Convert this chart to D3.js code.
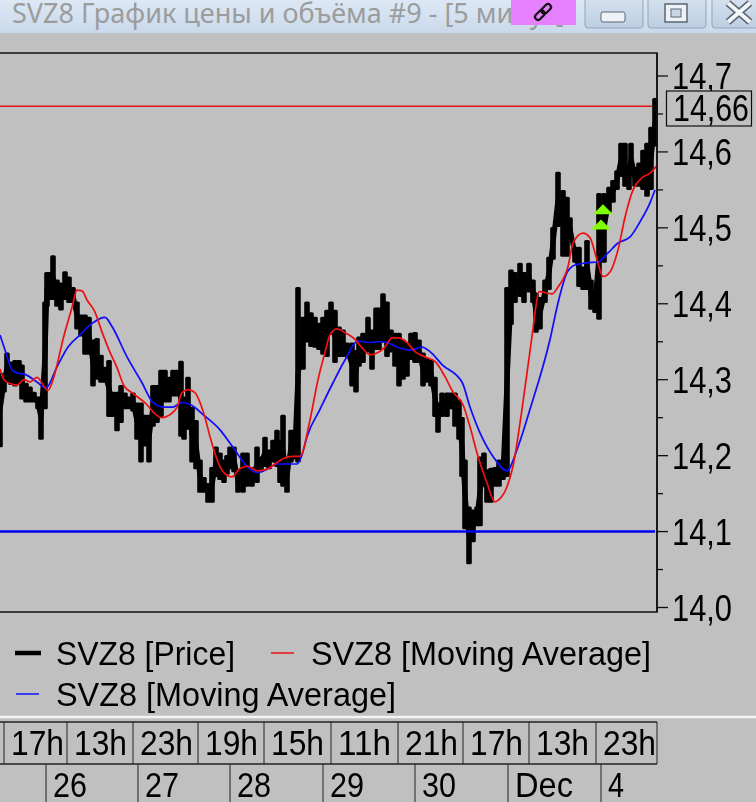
<!DOCTYPE html>
<html><head><meta charset="utf-8">
<script src="https://cdn.jsdelivr.net/npm/d3@7"></script>
<style>html,body{margin:0;padding:0;background:#c0c0c0;overflow:hidden}svg{display:block}</style>
</head><body><div id="c"></div>
<script>
const priceBars = `0 14.309 14.211;4 14.309 14.283;7 14.336 14.296;11 14.324 14.293;15 14.326 14.291;19 14.326 14.293;22 14.320 14.274;26 14.296 14.270;30 14.291 14.270;34 14.284 14.270;38 14.278 14.261;41 14.278 14.221;45 14.403 14.261;47 14.442 14.396;50 14.442 14.405;53 14.464 14.405;57 14.432 14.396;61 14.428 14.391;65 14.443 14.405;69 14.436 14.401;73 14.422 14.401;77 14.403 14.366;81 14.386 14.357;85 14.386 14.333;89 14.383 14.333;93 14.353 14.291;97 14.355 14.300;101 14.333 14.296;105 14.317 14.296;109 14.326 14.251;113 14.284 14.251;117 14.284 14.232;121 14.293 14.243;125 14.283 14.261;129 14.278 14.261;133 14.283 14.258;137 14.270 14.221;141 14.270 14.191;145 14.254 14.212;149 14.254 14.191;153 14.293 14.238;157 14.293 14.243;161 14.313 14.251;165 14.313 14.270;169 14.304 14.270;173 14.313 14.278;177 14.313 14.278;181 14.325 14.225;184 14.278 14.221;188 14.304 14.234;192 14.264 14.191;196 14.247 14.182;200 14.195 14.151;204 14.172 14.151;208 14.164 14.138;212 14.185 14.138;216 14.212 14.172;220 14.204 14.168;224 14.195 14.164;227 14.201 14.175;230 14.212 14.182;234 14.212 14.178;238 14.182 14.151;243 14.204 14.151;247 14.204 14.159;252 14.185 14.159;257 14.212 14.164;261 14.199 14.178;265 14.225 14.185;269 14.208 14.182;273 14.221 14.191;277 14.234 14.185;280 14.221 14.164;283 14.254 14.159;287 14.195 14.151;291 14.234 14.191;295 14.234 14.195;298 14.422 14.191;303 14.383 14.313;307 14.403 14.349;311 14.389 14.343;315 14.383 14.342;319 14.375 14.339;323 14.383 14.333;327 14.392 14.330;331 14.403 14.359;335 14.392 14.322;339 14.370 14.330;343 14.366 14.330;347 14.349 14.330;352 14.349 14.291;356 14.339 14.283;359 14.357 14.317;363 14.362 14.322;368 14.383 14.336;372 14.366 14.313;376 14.395 14.339;379 14.395 14.339;383 14.414 14.349;387 14.403 14.330;391 14.366 14.336;395 14.362 14.317;399 14.362 14.291;403 14.353 14.300;407 14.349 14.304;411 14.362 14.326;415 14.363 14.322;419 14.353 14.322;423 14.336 14.291;427 14.329 14.296;431 14.326 14.291;435 14.304 14.251;438 14.270 14.230;442 14.283 14.251;447 14.283 14.251;451 14.283 14.261;455 14.283 14.238;459 14.274 14.221;462 14.251 14.172;465 14.195 14.103;469 14.133 14.057;473 14.129 14.086;477 14.133 14.107;480 14.199 14.107;484 14.204 14.159;487 14.182 14.138;491 14.184 14.138;495 14.185 14.159;499 14.195 14.159;503 14.191 14.168;507 14.422 14.172;511 14.445 14.372;515 14.442 14.401;520 14.454 14.409;524 14.442 14.401;529 14.454 14.415;533 14.432 14.401;536 14.415 14.362;540 14.409 14.366;545 14.432 14.401;549 14.462 14.418;553 14.501 14.458;558 14.574 14.501;563 14.550 14.462;567 14.541 14.462;570 14.514 14.484;575 14.475 14.454;579 14.475 14.422;583 14.449 14.418;587 14.484 14.418;591 14.432 14.392;595 14.418 14.388;599 14.546 14.379;604 14.546 14.454;609 14.554 14.520;613 14.563 14.533;617 14.576 14.550;621 14.612 14.567;625 14.612 14.554;629 14.583 14.550;631 14.612 14.572;635 14.580 14.554;639 14.586 14.554;643 14.603 14.550;647 14.612 14.541;651 14.633 14.550;655 14.671 14.607`;
const priceTime = priceBars.split(";").map(r => +r.split(" ")[0]);
const priceHigh = priceBars.split(";").map(r => +r.split(" ")[1]);
const priceLow = priceBars.split(";").map(r => +r.split(" ")[2]);

const fastTime = [0,4,10,17,24,30,37,48,55,63,72,77,82,87,95,102,110,117,124,133,147,155,162,170,177,182,188,195,200,205,210,217,223,232,240,248,257,267,275,283,293,300,310,318,325,330,337,345,355,362,370,378,385,392,398,407,415,425,435,445,453,463,470,478,487,495,498,507,513,522,532,535,539,552,558,568,573,583,590,597,603,610,618,625,633,642,650,657];
const fastMA = [14.314,14.300,14.295,14.293,14.300,14.297,14.303,14.286,14.309,14.353,14.395,14.418,14.417,14.405,14.389,14.363,14.336,14.316,14.292,14.282,14.267,14.255,14.250,14.254,14.264,14.283,14.287,14.283,14.270,14.250,14.225,14.195,14.179,14.172,14.183,14.186,14.180,14.182,14.189,14.196,14.199,14.199,14.247,14.300,14.336,14.359,14.367,14.362,14.353,14.342,14.333,14.336,14.343,14.355,14.355,14.349,14.337,14.330,14.324,14.304,14.284,14.267,14.238,14.199,14.164,14.139,14.141,14.159,14.186,14.261,14.357,14.388,14.416,14.413,14.422,14.449,14.480,14.493,14.487,14.458,14.436,14.442,14.471,14.514,14.550,14.566,14.572,14.582];
const slowTime = [0,5,12,17,25,37,46,57,68,80,93,105,112,127,142,153,163,173,182,192,203,220,233,247,257,267,277,297,302,307,320,333,345,358,370,378,387,397,410,422,430,442,462,470,480,493,507,517,530,550,558,567,575,587,598,608,618,630,640,650,655];
const slowMA = [14.359,14.339,14.313,14.309,14.307,14.297,14.289,14.317,14.343,14.359,14.375,14.382,14.370,14.330,14.296,14.270,14.264,14.264,14.270,14.266,14.254,14.234,14.211,14.186,14.178,14.182,14.189,14.189,14.201,14.225,14.261,14.296,14.326,14.351,14.349,14.350,14.349,14.343,14.339,14.343,14.337,14.320,14.297,14.264,14.230,14.199,14.180,14.208,14.261,14.353,14.401,14.441,14.451,14.454,14.455,14.467,14.480,14.488,14.508,14.533,14.550];

const resistance = 14.66, support = 14.10;
const signalTime = [603, 601];
const signalPrice = [14.518, 14.498];
const yMajor = [14.0,14.1,14.2,14.3,14.4,14.5,14.6,14.7];
const yMinor = [14.05,14.15,14.25,14.35,14.45,14.55,14.65];
const hourLabels = ["17h","13h","23h","19h","15h","11h","21h","17h","13h","23h"];
const hourEdges = [4,67,133,198,264,331,398,463,529,596,657];
const dayLabels = ["26","27","28","29","30","Dec","4"];
const dayEdges = [46,138,230,323,415,508,601];
const legendNames = ["SVZ8 [Price]","SVZ8 [Moving Average]","SVZ8 [Moving Average]"];
const titleText = "SVZ8 График цены и объёма #9 - [5 минут]";

const W=756,H=802;
const svg=d3.select("#c").append("svg").attr("width",W).attr("height",H);
const defs=svg.append("defs");
const g1=defs.append("linearGradient").attr("id","tb").attr("x1",0).attr("x2",0).attr("y1",0).attr("y2",1);
g1.append("stop").attr("offset",0).attr("stop-color","#dde8f5");
g1.append("stop").attr("offset",1).attr("stop-color","#c9d9ea");
const g2=defs.append("linearGradient").attr("id","btn").attr("x1",0).attr("x2",0).attr("y1",0).attr("y2",1);
g2.append("stop").attr("offset",0).attr("stop-color","#d6e2ef");
g2.append("stop").attr("offset",1).attr("stop-color","#bccee2");
defs.append("filter").attr("id","soft").append("feGaussianBlur").attr("stdDeviation",0.5);

const FONT='"Liberation Sans Narrow","Liberation Sans",sans-serif';
const x=d3.scaleLinear().domain([0,657]).range([0,657]);
const y=d3.scaleLinear().domain([14,14.7]).range([607.5,76]);

svg.append("rect").attr("width",W).attr("height",H).attr("fill","#c0c0c0");
// title bar
svg.append("rect").attr("width",W).attr("height",33).attr("fill","url(#tb)");
svg.append("text").attr("x",12).attr("y",23).attr("font-family",'"Noto Sans",sans-serif').attr("font-size",27)
  .attr("fill","#9c9c9c").attr("textLength",553).attr("lengthAdjust","spacingAndGlyphs").text(titleText);
svg.append("rect").attr("x",511).attr("y",0).attr("width",65).attr("height",25).attr("fill","#e680ff");
const link=svg.append("g").attr("transform","translate(543 12) rotate(-45)").attr("fill","none").attr("stroke","#111").attr("stroke-width",2.2);
link.append("rect").attr("x",-10).attr("y",-3).attr("width",11).attr("height",6).attr("rx",3);
link.append("rect").attr("x",-1).attr("y",-3).attr("width",11).attr("height",6).attr("rx",3);
[[585,58],[648,58],[712,50]].forEach(b=>svg.append("rect").attr("x",b[0]).attr("y",-3).attr("width",b[1]).attr("height",31).attr("rx",3)
  .attr("fill","url(#btn)").attr("stroke","#8fa5bd"));
svg.append("rect").attr("x",601).attr("y",12).attr("width",24).attr("height",10).attr("rx",2).attr("fill","#eef2f6").attr("stroke","#5b6672");
svg.append("rect").attr("x",665).attr("y",4).attr("width",22).attr("height",18).attr("fill","#eef2f6").attr("stroke","#5b6672").attr("stroke-width",1.5);
svg.append("rect").attr("x",671).attr("y",9).attr("width",10).attr("height",8).attr("fill","#c9d6e4").attr("stroke","#5b6672");
svg.append("path").attr("d","M728 3L750 22M750 3L728 22").attr("stroke","#5b6672").attr("stroke-width",7);
svg.append("path").attr("d","M728 3L750 22M750 3L728 22").attr("stroke","#f3f6f9").attr("stroke-width",4);

const root=svg.append("g").attr("filter","url(#soft)");
// frame
root.append("path").attr("d",`M0 53H657V612H0`).attr("fill","none").attr("stroke","#111").attr("stroke-width",1.5);
// horizontal levels
root.append("line").attr("x1",0).attr("x2",x(655)).attr("y1",y(resistance)).attr("y2",y(resistance)).attr("stroke","#e01818").attr("stroke-width",1.5);
// price
const priceMid=priceHigh.map((h,i)=>(h+priceLow[i])/2);
root.append("path").attr("d",d3.line().x(d=>x(d[0])).y(d=>y(d[1]))(d3.zip(priceTime,priceMid))).attr("fill","none").attr("stroke","#000").attr("stroke-width",5);
root.append("g").selectAll("rect").data(priceTime).join("rect")
  .attr("x",(d)=>x(d)-2.8).attr("width",5.6)
  .attr("y",(d,i)=>y(priceHigh[i])).attr("height",(d,i)=>y(priceLow[i])-y(priceHigh[i]))
  .attr("rx",1.5).attr("fill","#000");
root.append("line").attr("x1",0).attr("x2",x(655)).attr("y1",y(support)).attr("y2",y(support)).attr("stroke","#0000f0").attr("stroke-width",2.4);
const ln=d3.line().x(d=>x(d[0])).y(d=>y(d[1])).curve(d3.curveMonotoneX);
root.append("path").attr("d",ln(d3.zip(slowTime,slowMA))).attr("fill","none").attr("stroke","#0a0aff").attr("stroke-width",1.7);
root.append("path").attr("d",ln(d3.zip(fastTime,fastMA))).attr("fill","none").attr("stroke","#f01010").attr("stroke-width",1.7);
// signals
root.append("g").selectAll("path").data(signalTime).join("path")
  .attr("d",(d,i)=>{const X=x(d),Y=y(signalPrice[i]);return `M${X} ${Y-10}L${X+10} ${Y}H${X-10}Z`;})
  .attr("fill","#80ff00");
// y axis
root.append("line").attr("x1",657).attr("x2",657).attr("y1",53).attr("y2",612).attr("stroke","#111").attr("stroke-width",1.5);
root.append("g").selectAll("line").data(yMajor).join("line").attr("x1",657).attr("x2",668).attr("y1",y).attr("y2",y).attr("stroke","#111").attr("stroke-width",1.3);
root.append("g").selectAll("line").data(yMinor).join("line").attr("x1",657).attr("x2",663).attr("y1",y).attr("y2",y).attr("stroke","#111").attr("stroke-width",1.3);
const fmt=v=>v.toFixed(1).replace(".",",");
root.append("g").selectAll("text").data(yMajor).join("text")
  .attr("x",672).attr("y",d=>y(d)+13).attr("font-family",FONT).attr("font-size",36).attr("fill","#000")
  .attr("textLength",60).attr("lengthAdjust","spacingAndGlyphs").text(fmt);
root.append("rect").attr("x",666.5).attr("y",91).attr("width",85).attr("height",35).attr("fill","#c0c0c0").attr("stroke","#111").attr("stroke-width",1.2);
root.append("text").attr("x",673).attr("y",121).attr("font-family",FONT).attr("font-size",36).attr("fill","#000")
  .attr("textLength",76).attr("lengthAdjust","spacingAndGlyphs").text(resistance.toFixed(2).replace(".",","));
// legend
const legendRows=[{s:[15,41],c:"#000",w:4.5,tx:56,ty:665,tl:179},{s:[271,294],c:"#f01010",w:1.5,tx:311,ty:665,tl:340},{s:[16,39],c:"#0a0aff",w:1.5,tx:56,ty:706,tl:340}];
legendRows.forEach((r,i)=>{
  const ly=r.ty-12;
  root.append("line").attr("x1",r.s[0]).attr("x2",r.s[1]).attr("y1",ly).attr("y2",ly).attr("stroke",r.c).attr("stroke-width",r.w);
  root.append("text").attr("x",r.tx).attr("y",r.ty).attr("font-family",FONT).attr("font-size",34).attr("fill","#000")
    .attr("textLength",r.tl).attr("lengthAdjust","spacingAndGlyphs").text(legendNames[i]);
});
// time axis
svg.append("line").attr("x1",0).attr("x2",W).attr("y1",717).attr("y2",717).attr("stroke","#f4f4f4").attr("stroke-width",2.5);
root.append("path").attr("d","M0 722H657M0 764H657").attr("fill","none").attr("stroke","#222").attr("stroke-width",1.3);
root.append("g").selectAll("line").data(hourEdges).join("line").attr("x1",x).attr("x2",x).attr("y1",722).attr("y2",764).attr("stroke","#222").attr("stroke-width",1);
root.append("g").selectAll("line").data(dayEdges).join("line").attr("x1",x).attr("x2",x).attr("y1",764).attr("y2",802).attr("stroke","#222").attr("stroke-width",1);
root.append("g").selectAll("text").data(hourLabels).join("text")
  .attr("x",(d,i)=>x(hourEdges[i])+7).attr("y",755).attr("font-family",FONT).attr("font-size",35).attr("fill","#000")
  .attr("textLength",53).attr("lengthAdjust","spacingAndGlyphs").text(d=>d);
const dayLen={"26":34,"27":34,"28":34,"29":34,"30":34,"Dec":58,"4":16};
root.append("g").selectAll("text").data(dayLabels).join("text")
  .attr("x",(d,i)=>x(dayEdges[i])+7).attr("y",797).attr("font-family",FONT).attr("font-size",35).attr("fill","#000")
  .attr("textLength",d=>dayLen[d]).attr("lengthAdjust","spacingAndGlyphs").text(d=>d);
</script></body></html>
